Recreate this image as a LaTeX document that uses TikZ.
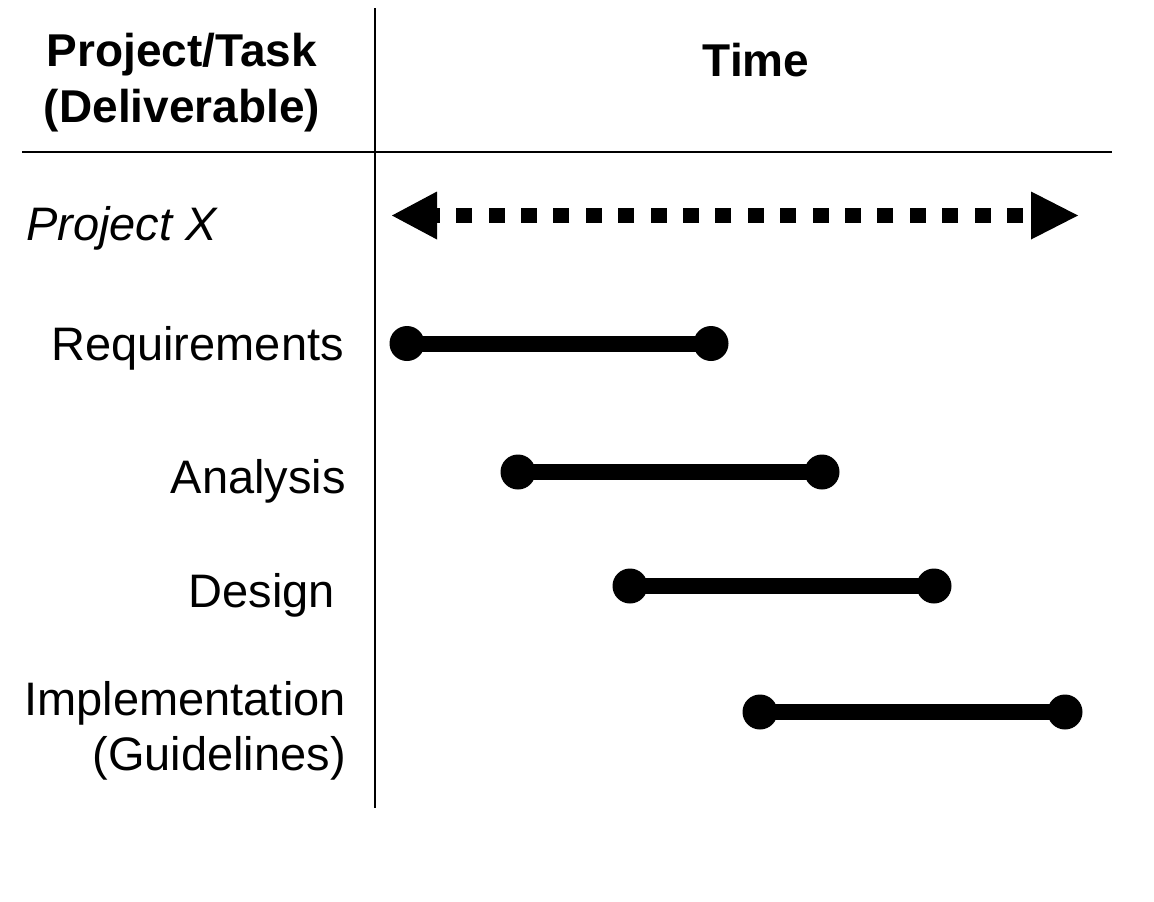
\documentclass[tikz,border=0pt]{standalone}
\usepackage{fontspec}
\setmainfont{Liberation Sans}
\begin{document}
\begin{tikzpicture}[x=1pt,y=-1pt,
  lbl/.style={inner sep=0pt,font=\fontsize{47}{54}\selectfont},
  hdr/.style={inner sep=0pt,font=\fontsize{46}{56}\selectfont\bfseries,align=center},
  rule/.style={line width=2.6pt},
  bar/.style={line width=16pt},
  dotnode/.style={circle,fill=black,minimum size=35pt,inner sep=0pt},
  dots/.style={line width=15.5pt,dash pattern=on 16pt off 16.4pt}]
\useasboundingbox (0,0) rectangle (1154,902);
% grid lines
\coordinate (vT) at (375,8);
\coordinate (vB) at (375,808);
\coordinate (hL) at (22,152);
\coordinate (hR) at (1112,152);
\draw[rule] (vT) -- (vB);
\draw[rule] (hL) -- (hR);
% headers
\node[hdr,anchor=base] (h1) at (182,66) {Project/Task};
\node[hdr,anchor=base] (h2) at (182,122) {(Deliverable)};
\node[hdr,anchor=base] (time) at (756,76) {Time};
% labels
\node[lbl,anchor=base west] (px) at (26,240) {\itshape Project X};
\node[lbl,anchor=base east] (req) at (344,360) {Requirements};
\node[lbl,anchor=base east] (ana) at (346,493) {Analysis};
\node[lbl,anchor=base east] (des) at (335,607) {Design};
\node[lbl,anchor=base east] (imp) at (346,715) {Implementation};
\node[lbl,anchor=base east] (gui) at (346,770) {(Guidelines)};
% project arrow
\coordinate (aL) at (392,215.5);
\coordinate (aR) at (1078,215.5);
\coordinate (dR) at (1023,215.5);
\coordinate (dL) at (437,215.5);
\fill (aL) -- ++(45,-24) -- ++(0,48) -- cycle;
\fill (aR) -- ++(-47,-24) -- ++(0,48) -- cycle;
\draw[dots] (dR) -- (dL);
% bars
\node[dotnode] (r1) at (407,343.5) {};
\node[dotnode] (r2) at (711,343.5) {};
\node[dotnode] (a1) at (518,472) {};
\node[dotnode] (a2) at (822,472) {};
\node[dotnode] (d1) at (630,586) {};
\node[dotnode] (d2) at (934,586) {};
\node[dotnode] (i1) at (760,712) {};
\node[dotnode] (i2) at (1065,712) {};
\draw[bar] (r1.center) -- (r2.center);
\draw[bar] (a1.center) -- (a2.center);
\draw[bar] (d1.center) -- (d2.center);
\draw[bar] (i1.center) -- (i2.center);
\end{tikzpicture}
\end{document}
